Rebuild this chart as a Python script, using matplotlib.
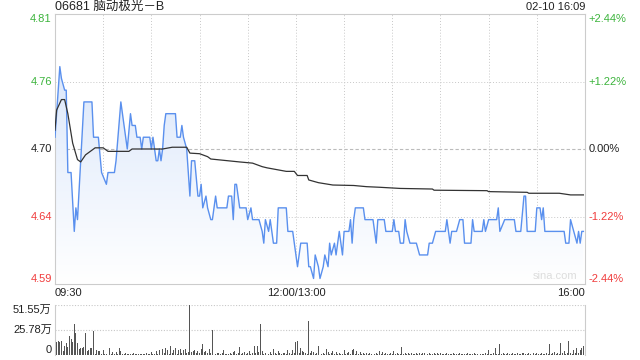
import numpy as np
import matplotlib
matplotlib.use('Agg')
import matplotlib.pyplot as plt
from matplotlib.colors import LinearSegmentedColormap
from matplotlib.transforms import blended_transform_factory

plt.rcParams['font.family'] = ['Liberation Sans', 'Noto Sans CJK SC', 'DejaVu Sans']

# header
title = '06681 脑动极光－B'
stamp = '02-10 16:09'
prev_close = 4.70
pct_max = 2.44

# price (minutes after 09:30, lunch removed)
t = [0, 1, 3, 4, 6, 7, 8, 10, 12, 13, 14, 16, 18, 23, 24, 27, 29, 32, 33, 37,
     38, 41, 43, 45, 47, 48, 50, 51, 53, 54, 55, 59, 60, 61, 63, 64, 65, 66, 67, 68,
     69, 75, 76, 78, 79, 80, 82, 84, 85, 87, 89, 90, 91, 92, 94, 95, 97, 98, 100, 101,
     107, 108, 110, 111, 112, 113, 115, 119, 120, 122, 123, 127, 129, 130, 131, 133, 134, 136, 138, 139,
     144, 145, 148, 150, 151, 153, 157, 158, 159, 161, 162, 164, 165, 167, 168, 170, 171, 172, 174, 175,
     177, 178, 179, 180, 183, 184, 185, 186, 187, 192, 193, 198, 200, 201, 205, 206, 210, 211, 212, 214,
     215, 217, 218, 219, 221, 225, 227, 232, 233, 235, 237, 243, 244, 246, 247, 250, 252, 254, 255, 259,
     260, 261, 266, 267, 268, 270, 275, 276, 277, 280, 286, 287, 290, 292, 293, 294, 299, 300, 302, 303,
     304, 305, 317, 318, 320, 321, 323, 325, 326, 327, 328, 329]
price = [4.71, 4.73, 4.77, 4.76, 4.75, 4.75, 4.68, 4.68, 4.63, 4.65, 4.64, 4.69, 4.74, 4.74, 4.71, 4.71, 4.68, 4.67, 4.68, 4.68,
         4.69, 4.74, 4.72, 4.70, 4.73, 4.72, 4.72, 4.71, 4.71, 4.70, 4.71, 4.71, 4.70, 4.71, 4.69, 4.69, 4.70, 4.69, 4.70, 4.72,
         4.73, 4.73, 4.71, 4.71, 4.72, 4.71, 4.70, 4.66, 4.69, 4.69, 4.66, 4.66, 4.67, 4.65, 4.66, 4.65, 4.64, 4.64, 4.66, 4.65,
         4.65, 4.66, 4.66, 4.64, 4.67, 4.67, 4.65, 4.65, 4.64, 4.65, 4.64, 4.64, 4.63, 4.62, 4.64, 4.63, 4.64, 4.62, 4.62, 4.65,
         4.65, 4.63, 4.63, 4.61, 4.60, 4.62, 4.62, 4.60, 4.60, 4.59, 4.61, 4.60, 4.59, 4.60, 4.61, 4.60, 4.62, 4.61, 4.62, 4.61,
         4.63, 4.62, 4.61, 4.63, 4.63, 4.64, 4.62, 4.64, 4.65, 4.65, 4.64, 4.64, 4.62, 4.64, 4.64, 4.63, 4.63, 4.64, 4.63, 4.63,
         4.62, 4.62, 4.64, 4.63, 4.62, 4.62, 4.61, 4.61, 4.62, 4.62, 4.63, 4.63, 4.64, 4.62, 4.63, 4.63, 4.64, 4.64, 4.62, 4.62,
         4.64, 4.63, 4.63, 4.64, 4.63, 4.64, 4.64, 4.65, 4.63, 4.64, 4.64, 4.63, 4.63, 4.66, 4.66, 4.63, 4.63, 4.65, 4.65, 4.64,
         4.65, 4.63, 4.63, 4.62, 4.62, 4.64, 4.63, 4.62, 4.63, 4.62, 4.63, 4.63]

# average price line
avg_t = [0, 1, 4, 6, 8, 11, 14, 16, 19, 23, 25, 30, 33, 46, 48, 67, 73, 82, 84, 90,
         95, 97, 115, 123, 129, 132, 144, 149, 151, 157, 158, 164, 173, 186, 194, 202, 215, 235, 236, 269,
         270, 294, 295, 314, 321, 329]
avg_p = [4.716, 4.733, 4.742, 4.742, 4.730, 4.705, 4.691, 4.689, 4.695, 4.699, 4.701, 4.701, 4.698, 4.698, 4.700, 4.700,
         4.7015, 4.7015, 4.6965, 4.696, 4.6935, 4.6915, 4.689, 4.688, 4.685, 4.684, 4.681, 4.681, 4.6775, 4.6775,
         4.6737, 4.6714, 4.6694, 4.669, 4.668, 4.6675, 4.6665, 4.666, 4.665, 4.6646, 4.6638, 4.6632, 4.6624, 4.6624,
         4.661, 4.661]

# volume per minute (万股)
vol = [21, 13.7, 14.4, 13.7, 14.4, 4, 9.3, 12, 8.6, 19.6, 17, 13.7, 32, 23, 12, 5.8, 6.9, 7.6, 8.6, 23, 4.5, 5.2, 6.9, 7, 24.7, 1.5, 5, 4, 4, 1.2,
       5, 1.5, 1, 7.6, 7, 1.5, 2.7, 1.2, 3.4, 1, 7.6, 4, 1.5, 1, 2, 1.2, 0.8, 1.5, 1, 2, 1.2, 0.8, 1.5, 1, 0.8, 1.5, 1.2, 2, 1, 1.5,
       3.4, 1.2, 1.5, 4, 1.5, 5, 2, 5.8, 2.4, 7.6, 5, 1.5, 9.3, 2, 5, 7, 1.5, 5, 5.8, 2, 5, 5.8, 2, 3, 51.55, 3, 4.5, 5, 2, 4,
       2, 5.8, 11, 3.4, 4, 2, 5.8, 2, 25.8, 1.7, 1.2, 2.4, 1.7, 1, 2.4, 5, 1.2, 1, 1.5, 1.7, 1, 3.4, 4, 1.2, 1.7, 8.6, 1.5, 2.4, 3.4, 1.5,
       2.4, 4, 1.5, 2.4, 9.3, 2, 9.3, 3.4, 32, 4, 1.5, 1.7, 6.9, 1.5, 3.4, 1.2, 5.8, 2.4, 1.5, 4, 1.7, 1.2, 2.4, 1.7, 1.2, 5, 2.4, 1.5, 5, 2,
       13.7, 14.4, 2, 6.9, 4, 3.4, 2.4, 1.5, 35, 2.4, 4, 3.4, 1.5, 2, 9.3, 3.4, 1.5, 2.4, 1.2, 5.8, 3.4, 1.5, 2.4, 4, 1.2, 3.4, 1.5, 2.4, 1.2, 1.5,
       5, 1.5, 2.4, 3.4, 1.2, 5, 5.8, 1.5, 4, 1.2, 3.4, 1.5, 2.4, 1.2, 1.7, 1, 2.4, 1.2, 1.7, 1, 2.4, 1.5, 4, 1.2, 3.4, 1.5, 2.4, 1, 1.2, 1.7,
       1, 4, 1.5, 2.4, 1.2, 1.5, 8.6, 1.2, 2.4, 1.5, 2, 1.2, 2.4, 1.5, 1, 2, 1.2, 2.4, 1.5, 1.7, 2.4, 1, 1.5, 2, 1.2, 1.5, 2.4, 1, 1.7, 1.2,
       2, 1.2, 1.5, 1, 2, 1.2, 1.5, 1, 1.7, 1.2, 1.5, 1, 2, 1.2, 1.5, 1, 1.2, 1.7, 1, 1.5, 1.2, 2, 1, 1.5, 2.4, 1.2, 1.5, 1, 2, 1.2,
       5, 1.5, 1.2, 2, 7, 1.2, 1.5, 11, 1.5, 2, 1.2, 1.5, 2, 1, 1.5, 2.4, 1.2, 1.5, 2.4, 1, 1.5, 2, 2.4, 1.2, 1.5, 2, 1, 1.5, 2.4, 1.2,
       2, 1.5, 1.2, 2, 1, 1.5, 2.4, 1.2, 11, 1.5, 2, 3.4, 1.2, 2, 1.5, 12.4, 2, 4, 1.5, 2.4, 14.4, 2, 1.5, 5, 2, 7, 2.4, 5, 7.6, 9.3]
vol_max = 51.55

price_labels = ['4.59', '4.64', '4.70', '4.76', '4.81']
pct_labels = ['-2.44%', '-1.22%', '0.00%', '+1.22%', '+2.44%']
label_colors = ['#f03c3c', '#f03c3c', '#222222', '#3cb43c', '#3cb43c']
time_labels = ['09:30', '12:00/13:00', '16:00']
n_min = 330

ylo = prev_close * (1 - pct_max / 100)
yhi = prev_close * (1 + pct_max / 100)
levels = np.linspace(ylo, yhi, 5)

fig = plt.figure(figsize=(6.4, 3.6), dpi=100)
ax = fig.add_axes([55 / 640, 76 / 360, 530 / 640, 270 / 360])
axv = fig.add_axes([55 / 640, 5 / 360, 530 / 640, 50 / 360])

grid_c = '#c8c8c8'
for a in (ax, axv):
    a.set_xlim(0, n_min)
    a.set_xticks([])
    a.set_yticks([])
    for s in a.spines.values():
        s.set_color('#cccccc')
        s.set_linewidth(0.8)

# main price chart
ax.set_ylim(ylo, yhi)
for m in range(30, n_min, 30):
    ax.axvline(m, color=grid_c, lw=0.7, ls=(0, (1, 2)), zorder=1)
ax.axhline(levels[1], color=grid_c, lw=0.7, ls=(0, (1, 2)), zorder=1)
ax.axhline(levels[3], color=grid_c, lw=0.7, ls=(0, (1, 2)), zorder=1)
ax.axhline(levels[2], color='#bbbbbb', lw=0.8, ls=(0, (3, 2)), zorder=1)

poly = ax.fill_between(t, price, ylo, color='none', lw=0)
cmap = LinearSegmentedColormap.from_list('fade', ['#ffffff', '#d3e2fa'])
grad = np.linspace(0, 1, 256).reshape(-1, 1)
im = ax.imshow(grad, cmap=cmap, origin='lower', aspect='auto',
               extent=[0, n_min, ylo, yhi], zorder=2)
im.set_clip_path(poly.get_paths()[0], transform=ax.transData)
ax.set_xlim(0, n_min)
ax.set_ylim(ylo, yhi)

ax.plot(t, price, color='#5a90ee', lw=1.0, zorder=4)
ax.plot(avg_t, avg_p, color='#333333', lw=0.9, zorder=5)

ltr = blended_transform_factory(ax.transAxes, ax.transData)
vas = ['bottom', 'center', 'center', 'center', 'top']
for lv, pl, pc, c, va in zip(levels, price_labels, pct_labels, label_colors, vas):
    ax.text(-0.006, lv, pl, transform=ltr, ha='right', va=va, fontsize=8, color=c)
    ax.text(1.006, lv, pc, transform=ltr, ha='left', va=va, fontsize=8, color=c)

fig.text(55 / 640, 1 - 7 / 360, title, ha='left', va='center', fontsize=9, color='#222222')
fig.text(585 / 640, 1 - 7 / 360, stamp, ha='right', va='center', fontsize=8, color='#222222')
ax.text(0.985, 0.012, 'sina.com', transform=ax.transAxes, ha='right', va='bottom', fontsize=8, color='#dddddd')

btr = blended_transform_factory(ax.transData, ax.transAxes)
ax.text(0, -0.035, time_labels[0], transform=btr, ha='left', va='center', fontsize=8, color='#222222')
ax.text(150, -0.035, time_labels[1], transform=btr, ha='center', va='center', fontsize=8, color='#222222')
ax.text(n_min, -0.035, time_labels[2], transform=btr, ha='right', va='center', fontsize=8, color='#222222')

# volume chart
axv.set_ylim(0, vol_max)
axv.spines['top'].set_visible(False)
axv.spines['bottom'].set_visible(False)
axv.axhline(vol_max, color=grid_c, lw=0.8, ls=(0, (1, 1.5)), zorder=1)
axv.axhline(vol_max / 2, color=grid_c, lw=0.8, ls=(0, (1, 1.5)), zorder=1)
axv.bar(np.arange(len(vol)), vol, width=0.6, color='#555555', lw=0, zorder=3)
vtr = blended_transform_factory(axv.transAxes, axv.transData)
axv.text(-0.006, vol_max, '51.55万', transform=vtr, ha='right', va='top', fontsize=8, color='#222222')
axv.text(-0.006, vol_max / 2, '25.78万', transform=vtr, ha='right', va='center', fontsize=8, color='#222222')
axv.text(-0.006, 0, '0', transform=vtr, ha='right', va='bottom', fontsize=8, color='#222222')

fig.savefig('out.png', dpi=100)
